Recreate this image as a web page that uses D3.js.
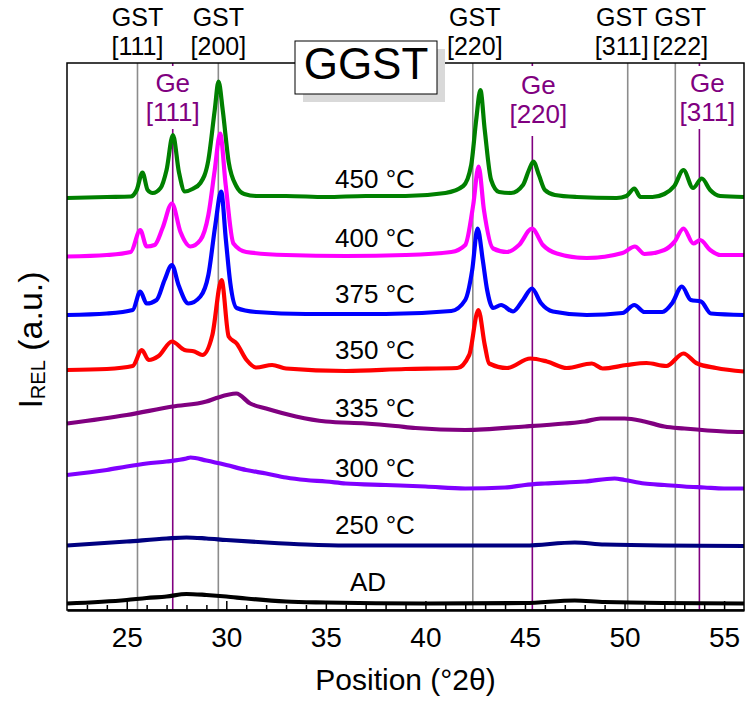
<!DOCTYPE html>
<html>
<head>
<meta charset="utf-8">
<script src="https://cdn.jsdelivr.net/npm/d3@7"></script>
<style>
  body { margin: 0; background: #fff; }
  svg { display: block; font-family: "Liberation Sans", Arial, sans-serif; }
</style>
</head>
<body>
<div id="chart"></div>
<script>
// XRD scans, [2theta, relative intensity (offset a.u.)]
const scan450 = [[22,82.4],[24,82.6],[25.2,82.7],[25.5,84],[25.79,87.5],[26.05,84],[26.3,83.4],[26.7,84.4],[27.0,88],[27.32,95],[27.62,87.6],[27.92,83.7],[28.3,84.2],[28.7,85.4],[29.1,90],[29.42,100],[29.61,105.7],[29.82,100],[30.12,89.6],[30.5,84.8],[30.9,83.2],[31.5,82.8],[33,82.8],[35,82.6],[37,82.8],[39,82.8],[41,83.4],[41.9,84.8],[42.3,89],[42.55,98],[42.76,104],[42.98,96],[43.3,86],[43.7,83.6],[44.3,83.4],[44.9,85],[45.2,88],[45.42,89.7],[45.7,87],[46.0,84],[46.5,83],[47.6,82.6],[49.6,82.4],[50.1,82.8],[50.49,84.3],[50.8,82.6],[51.4,82.6],[52.0,83.2],[52.5,84.8],[52.96,88],[53.44,84.4],[53.88,86.3],[54.3,84],[54.8,82.8],[56,82.6]];
const scan400 = [[22,70.7],[24,71],[25.2,71.6],[25.68,76],[26.0,72.7],[26.4,73],[26.8,76.4],[27.27,81.3],[27.7,75.6],[28.2,72.7],[28.7,74],[29.1,79],[29.42,88],[29.69,95.3],[29.97,85],[30.36,73.3],[31.0,71.6],[33,71],[36,70.8],[39,71],[41.3,71.6],[42.0,73],[42.4,81],[42.67,88.7],[42.94,80],[43.4,72.3],[44.1,71.6],[44.7,73],[45.35,76.3],[45.9,73],[46.6,71.3],[48.1,70.4],[49.9,71.4],[50.52,72.7],[51.0,71.2],[52.0,72],[52.5,73.6],[52.96,76.3],[53.46,73.3],[53.8,74],[54.3,72],[54.8,71],[56,71]];
const scan375 = [[22,59],[24,59.3],[25.3,60],[25.68,63.7],[26.0,61.3],[26.5,62],[26.9,66],[27.27,69],[27.6,65],[28.1,61.3],[28.7,62.7],[29.1,67],[29.45,77],[29.74,83.7],[29.98,74],[30.2,65.4],[30.52,60.4],[31.5,59.6],[34,59.2],[38,59.2],[41.3,59.8],[42.0,62],[42.35,68],[42.62,76.3],[42.88,70],[43.1,64],[43.4,60.4],[43.8,61],[44.4,59.7],[44.9,62],[45.35,64.3],[45.8,61.4],[46.4,59.7],[48.1,59],[49.9,59.4],[50.49,61],[51.0,59.6],[51.9,59.6],[52.4,61.4],[52.88,64.7],[53.33,62],[53.84,61.7],[54.34,59.3],[56,59]];
const scan350 = [[22,48],[24,48.2],[25.3,48.8],[25.76,52],[26.1,50],[26.6,50.8],[27.27,53.7],[27.9,52],[28.4,51.7],[28.8,51],[29.3,55],[29.76,66],[30.12,54.7],[30.52,53.3],[31.02,50],[31.5,48.5],[32.3,49],[33,48.3],[36,47.8],[39,48.2],[41.6,48.4],[42.2,51],[42.66,60],[42.98,53],[43.2,49.3],[44.1,48.4],[45.27,50.3],[46.1,49.7],[47.1,48.4],[48.36,49.3],[48.9,48.3],[50.1,49],[51.1,49.4],[52.1,48.8],[52.96,51.3],[53.6,49.4],[54.6,48.4],[56,47.7]];
const scan335 = [[22,37.3],[25,39],[27.3,40.7],[29,41.7],[29.5,42.4],[30.5,43.3],[31.2,41.3],[32,40.3],[33.5,38.7],[35,37.7],[37,37.3],[38.5,36.8],[39.5,36.4],[42,36],[45,36.7],[47,37.3],[48,37.7],[48.8,38.3],[50,38.3],[51,37.7],[52,36.7],[53,36.3],[55,35.7],[56,35.6]];
const scan300 = [[22,27],[24,28],[25,28.7],[26,29.3],[27,29.7],[28,30.3],[28.2,30.5],[29,29.9],[30,29],[31,28],[32,27.3],[33,26.5],[34,26],[35,25.7],[36,25.3],[38,25],[40,24.7],[42,24.3],[44,24.5],[45,25],[46,25.3],[48,25.7],[49.5,26.3],[50,26],[51,25.3],[52,25],[53,24.7],[54,24.5],[55,24.3],[56,24.3]];
const scan250 = [[22,12.9],[25,13.7],[27,14.3],[28,14.5],[29,14.3],[30,14],[32,13.5],[34,13.1],[36,12.9],[40,12.9],[45,12.9],[47.5,13.5],[49,13.1],[56,12.8]];
const scanAD = [[22,1.3],[25,2],[26,2.4],[27,2.7],[28,3.2],[29,3],[30,2.7],[31,2.3],[33,1.7],[35,1.5],[40,1.3],[45,1.4],[47.5,1.9],[49,1.6],[56,1.3]];

const sampleNames = ["450 °C", "400 °C", "375 °C", "350 °C", "335 °C", "300 °C", "250 °C", "AD"];
const scans = [scan450, scan400, scan375, scan350, scan335, scan300, scan250, scanAD];

// reference reflections
const gstPeaks = [25.54, 29.6, 42.38, 50.16, 52.55];
const gstLabels = ["[111]", "[200]", "[220]", "[311]", "[222]"];
const gePeaks = [27.31, 45.37, 53.76];
const geLabels = ["[111]", "[220]", "[311]"];

const xTicks = [25, 30, 35, 40, 45, 50, 55];

// styles
const colors = ["#008000", "#ff00ff", "#0000ff", "#ff0000", "#800080", "#8000ff", "#000080", "#000000"];
const labelDy = [-9, -9, -11, -11, -5, -5, -11, -12];

const W = 747, H = 702;
const svg = d3.select("#chart").append("svg")
  .attr("width", W)
  .attr("height", H);

const x = d3.scaleLinear().domain([22, 56]).range([67, 744]);
const y = d3.scaleLinear().domain([0, 109.4]).range([610, 63]);

// reference lines
svg.append("g").selectAll("line")
  .data(gstPeaks)
  .join("line")
  .attr("x1", d => x(d)).attr("x2", d => x(d))
  .attr("y1", y.range()[1]).attr("y2", y.range()[0])
  .attr("stroke", "#8c8c8c")
  .attr("stroke-width", 1.6);

svg.append("g").selectAll("line")
  .data(gePeaks)
  .join("line")
  .attr("x1", d => x(d)).attr("x2", d => x(d))
  .attr("y1", y.range()[1]).attr("y2", y.range()[0])
  .attr("stroke", "#800080")
  .attr("stroke-width", 1.6);

// white gap behind Ge labels
const geGap = [129, 136, 129];
svg.append("g").selectAll("rect")
  .data(gePeaks)
  .join("rect")
  .attr("x", d => x(d) - 4)
  .attr("y", 66)
  .attr("width", 8)
  .attr("height", (d, i) => geGap[i] - 66)
  .attr("fill", "#fff");

// scans
const line = d3.line()
  .x(d => x(d[0]))
  .y(d => y(d[1]))
  .curve(d3.curveMonotoneX);

svg.append("g").selectAll("path")
  .data(scans)
  .join("path")
  .attr("d", line)
  .attr("fill", "none")
  .attr("stroke", (d, i) => colors[i])
  .attr("stroke-width", 4.2)
  .attr("stroke-linejoin", "round");

// sample labels, placed above each scan at 35 deg
function valueAt(scan, t) {
  const i = d3.bisector(d => d[0]).left(scan, t);
  if (i <= 0) return scan[0][1];
  const a = scan[i - 1], b = scan[i];
  return a[1] + (b[1] - a[1]) * (t - a[0]) / (b[0] - a[0]);
}
svg.append("g").selectAll("text")
  .data(sampleNames)
  .join("text")
  .attr("x", (d, i) => d == "AD" ? 368 : 375)
  .attr("y", (d, i) => y(valueAt(scans[i], 35)) + labelDy[i])
  .attr("text-anchor", "middle")
  .attr("font-size", 26)
  .text(d => d);

// frame
svg.append("rect")
  .attr("x", x(22)).attr("y", y(109.4))
  .attr("width", x(56) - x(22)).attr("height", y(0) - y(109.4))
  .attr("fill", "none")
  .attr("stroke", "#000")
  .attr("stroke-width", 1.5);

// x axis, ticks inside
const minor = d3.range(23, 56).filter(v => v % 5 != 0);
const xMinor = svg.append("g").attr("transform", `translate(0,${y(0)})`)
  .call(d3.axisBottom(x).tickValues(minor).tickSize(-5).tickSizeOuter(0).tickFormat(""));
xMinor.select(".domain").remove();
xMinor.selectAll(".tick line").attr("stroke-width", 1.5);

const xAxis = svg.append("g").attr("transform", `translate(0,${y(0)})`)
  .call(d3.axisBottom(x).tickValues(xTicks).tickSize(-9).tickSizeOuter(0));
xAxis.attr("font-family", null).attr("font-size", 28);
xAxis.select(".domain").attr("stroke-width", 2.5);
xAxis.selectAll(".tick line").attr("stroke-width", 1.5);
xAxis.selectAll(".tick text").attr("y", 37).attr("dy", null).attr("fill", "#000");

svg.append("text")
  .attr("x", (x(22) + x(56)) / 2)
  .attr("y", 690)
  .attr("text-anchor", "middle")
  .attr("font-size", 30)
  .text("Position (°2θ)");

// y axis title
const yTitle = svg.append("text")
  .attr("transform", "translate(42,340) rotate(-90)")
  .attr("text-anchor", "middle")
  .attr("font-size", 34);
yTitle.append("tspan").text("I");
yTitle.append("tspan").attr("font-size", 20).attr("dy", 3).text("REL");
yTitle.append("tspan").attr("dy", -3).text(" (a.u.)");

// GST labels above the frame
const gstDx = [0, 0, 2, -6, 5];
const gstText = svg.append("g").selectAll("g")
  .data(gstPeaks)
  .join("g")
  .attr("transform", (d, i) => `translate(${x(d) + gstDx[i]},0)`)
  .attr("text-anchor", "middle")
  .attr("font-size", 25);
gstText.append("text").attr("y", 26).text("GST");
gstText.append("text").attr("y", 55).text((d, i) => gstLabels[i]);

// Ge labels inside the frame
const geDx = [0, 6, 8];
const geDy = [0, 2, 0];
const geText = svg.append("g").selectAll("g")
  .data(gePeaks)
  .join("g")
  .attr("transform", (d, i) => `translate(${x(d) + geDx[i]},${geDy[i]})`)
  .attr("text-anchor", "middle")
  .attr("font-size", 26)
  .attr("fill", "#800080");
geText.append("text").attr("y", 92).text("Ge");
geText.append("text").attr("y", 121).text((d, i) => geLabels[i]);

// GGST title box with shadow
svg.append("rect")
  .attr("x", 303).attr("y", 49).attr("width", 142).attr("height", 53)
  .attr("fill", "#d9d9d9");
svg.append("rect")
  .attr("x", 295).attr("y", 41).attr("width", 142).attr("height", 53)
  .attr("fill", "#fff")
  .attr("stroke", "#000")
  .attr("stroke-width", 1);
svg.append("text")
  .attr("x", 366).attr("y", 79)
  .attr("text-anchor", "middle")
  .attr("font-size", 44)
  .text("GGST");
</script>
</body>
</html>
